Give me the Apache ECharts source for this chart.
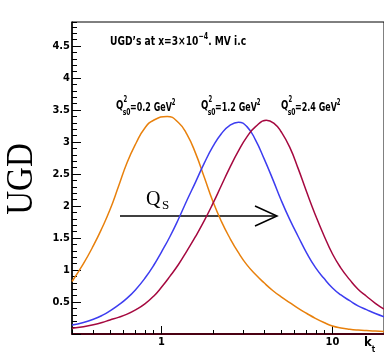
<!DOCTYPE html>
<html>
<head>
<meta charset="utf-8">
<script src="https://cdn.jsdelivr.net/npm/echarts@6/dist/echarts.min.js"></script>
<style>
  html, body { margin: 0; padding: 0; background: #fff; }
  #chart { width: 384px; height: 357px; }
</style>
</head>
<body>
<div id="chart"></div>
<script>
  // kt samples (GeV) and UGD values, one pair of arrays per curve
  const ktQ02 = [0.3, 0.35, 0.4, 0.45, 0.5, 0.56, 0.63, 0.71, 0.8, 0.9, 1.08, 1.26, 1.41, 1.58, 1.78, 2, 2.24, 2.51,
    2.82, 3.16, 3.55, 3.98, 4.47, 5.01, 5.62, 6.31, 7.08, 7.94, 8.91, 10, 11.2, 12.6, 14.1, 15.8, 17.8, 20];
  const ugdQ02 = [0.82, 1.10, 1.38, 1.66, 1.94, 2.30, 2.68, 2.98, 3.22, 3.34, 3.40, 3.30, 3.12, 2.83, 2.45, 2.07, 1.76, 1.50,
    1.27, 1.08, 0.93, 0.80, 0.68, 0.58, 0.49, 0.40, 0.32, 0.245, 0.18, 0.125, 0.095, 0.075, 0.062, 0.053, 0.046, 0.04];

  const ktQ12 = [0.3, 0.35, 0.4, 0.45, 0.5, 0.56, 0.63, 0.71, 0.8, 0.9, 1, 1.12, 1.26, 1.41, 1.58, 1.78, 2, 2.24, 2.51,
    2.82, 3.16, 3.55, 3.98, 4.47, 5.01, 5.62, 6.31, 7.08, 7.94, 8.91, 10, 11.2, 12.6, 14.1, 15.8, 17.8, 20];
  const ugdQ12 = [0.14, 0.18, 0.23, 0.29, 0.36, 0.45, 0.56, 0.70, 0.87, 1.07, 1.28, 1.52, 1.80, 2.09, 2.37, 2.67, 2.93, 3.13, 3.26,
    3.31, 3.24, 3.03, 2.74, 2.42, 2.09, 1.79, 1.52, 1.26, 1.04, 0.87, 0.72, 0.61, 0.52, 0.44, 0.38, 0.32, 0.27];

  const ktQ24 = [0.3, 0.35, 0.4, 0.45, 0.5, 0.56, 0.63, 0.71, 0.8, 0.9, 1, 1.12, 1.26, 1.41, 1.58, 1.78, 2, 2.24, 2.51,
    2.82, 3.16, 3.55, 4.1, 4.6, 5.01, 5.62, 6.31, 7.08, 7.94, 8.91, 10, 11.2, 12.6, 14.1, 15.8, 17.8, 20];
  const ugdQ24 = [0.09, 0.115, 0.145, 0.18, 0.22, 0.26, 0.31, 0.38, 0.47, 0.59, 0.73, 0.90, 1.09, 1.30, 1.52, 1.77, 2.04, 2.32, 2.60,
    2.86, 3.08, 3.24, 3.34, 3.28, 3.16, 2.92, 2.58, 2.21, 1.86, 1.54, 1.25, 1.03, 0.85, 0.70, 0.59, 0.48, 0.39];

  const seriesNames = ['0.2', '1.2', '2.4'];
  const seriesColors = ['#e8800c', '#3d3df0', '#a5083f'];

  const xMajorTicks = [1, 10];
  const xMinorTicks = [0.3, 0.4, 0.5, 0.6, 0.7, 0.8, 0.9, 2, 3, 4, 5, 6, 7, 8, 9, 20];

  const NARROW = "'Liberation Sans Narrow', 'DejaVu Sans Condensed', sans-serif";
  const SERIF = "'Liberation Serif', 'DejaVu Serif', serif";

  const chart = echarts.init(document.getElementById('chart'));

  function qLabel(x, y, value) {
    return {
      type: 'group', x: x, y: y, scaleX: 0.74,
      children: [
        { type: 'text', x: 0, y: -1, style: { text: 'Q', font: 'bold 13px ' + NARROW, fill: '#000', textVerticalAlign: 'top' } },
        { type: 'text', x: 10, y: -4, style: { text: '2', font: 'bold 8px ' + NARROW, fill: '#000', textVerticalAlign: 'top' } },
        { type: 'text', x: 9, y: 8, style: { text: 's0', font: 'bold 9px ' + NARROW, fill: '#000', textVerticalAlign: 'top' } },
        {
          type: 'text', x: 19, y: -1,
          style: {
            text: '{a|=' + value + ' GeV}{s|2}',
            textVerticalAlign: 'top',
            rich: {
              a: { font: 'bold 12px ' + NARROW, fill: '#000', lineHeight: 15, verticalAlign: 'bottom' },
              s: { font: 'bold 8px ' + NARROW, fill: '#000', lineHeight: 8, verticalAlign: 'top' }
            }
          }
        }
      ]
    };
  }

  const curves = [[ktQ02, ugdQ02], [ktQ12, ugdQ12], [ktQ24, ugdQ24]];

  chart.setOption({
    animation: false,
    grid: { left: 72, right: -1, top: 22, bottom: 23, show: true, borderColor: '#000', borderWidth: 1, backgroundColor: 'transparent' },
    xAxis: [
      {
        type: 'log', logBase: 10, min: 0.3, max: 20,
        axisLine: { show: true, lineStyle: { color: '#4a0012', width: 2 } },
        axisTick: { show: true, inside: true, length: 8, customValues: xMajorTicks, lineStyle: { color: '#000' } },
        axisLabel: { customValues: xMajorTicks, color: '#000', fontFamily: NARROW, fontSize: 11, fontWeight: 'bold', margin: 3 },
        splitLine: { show: false },
        minorTick: { show: false }
      },
      {
        type: 'log', logBase: 10, min: 0.3, max: 20, position: 'bottom',
        axisLine: { show: false },
        axisTick: { show: true, inside: true, length: 4, customValues: xMinorTicks, lineStyle: { color: '#000' } },
        axisLabel: { show: false },
        splitLine: { show: false }
      }
    ],
    yAxis: [
      {
        type: 'value', min: 0, max: 4.875, interval: 0.5,
        axisLine: { show: true, lineStyle: { color: '#000', width: 1.5 } },
        axisTick: { show: true, inside: true, length: 9, lineStyle: { color: '#000' } },
        axisLabel: {
          color: '#000', fontFamily: NARROW, fontSize: 11, fontWeight: 'bold', margin: 2,
          showMaxLabel: false,
          formatter: function (v) { return (v === 0 || Math.abs(v * 2 - Math.round(v * 2)) > 1e-6) ? '' : String(v); }
        },
        splitLine: { show: false }
      },
      {
        type: 'value', min: 0, max: 4.875, interval: 0.1, position: 'left',
        axisLine: { show: false },
        axisTick: { show: true, inside: true, length: 5, lineStyle: { color: '#000' } },
        axisLabel: { show: false },
        splitLine: { show: false }
      }
    ],
    series: curves.map(function (c, s) {
      return {
        name: seriesNames[s], type: 'line', xAxisIndex: 0, yAxisIndex: 0,
        smooth: 0.5, symbol: 'none',
        lineStyle: { color: seriesColors[s], width: 1.5 },
        data: c[0].map(function (k, i) { return [k, c[1][i]]; })
      };
    }),
    graphic: [
      {
        type: 'text', x: 110, y: 32, scaleX: 0.78,
        style: {
          text: '{a|UGD\u2019s at x=3\u00d710}{s|\u22124}{a|. MV i.c}',
          textVerticalAlign: 'top',
          rich: {
            a: { font: 'bold 13px ' + NARROW, fill: '#000', lineHeight: 16, verticalAlign: 'bottom' },
            s: { font: 'bold 9px ' + NARROW, fill: '#000', lineHeight: 9, verticalAlign: 'top' }
          }
        }
      },
      qLabel(116, 100, seriesNames[0]),
      qLabel(201, 100, seriesNames[1]),
      qLabel(281, 100, seriesNames[2]),
      { type: 'text', x: 146, y: 190, style: { text: 'Q', font: '20px ' + SERIF, fill: '#000', textVerticalAlign: 'top' } },
      { type: 'text', x: 162, y: 199, style: { text: 'S', font: '13px ' + SERIF, fill: '#000', textVerticalAlign: 'top' } },
      { type: 'line', shape: { x1: 120, y1: 216, x2: 276, y2: 216 }, style: { stroke: '#000', lineWidth: 1.5 } },
      { type: 'polyline', shape: { points: [[255, 206], [277, 216], [255, 226]] }, style: { stroke: '#000', lineWidth: 1.5, fill: null } },
      {
        type: 'text', x: 22, y: 179, rotation: Math.PI / 2, scaleY: 1.12,
        style: { text: 'UGD', font: '33px ' + SERIF, fill: '#000', textAlign: 'center', textVerticalAlign: 'middle' }
      },
      {
        type: 'text', x: 364, y: 336,
        style: {
          text: '{k|k}{t|t}',
          textVerticalAlign: 'top',
          rich: {
            k: { font: 'bold 13px ' + NARROW, fill: '#000', lineHeight: 14, verticalAlign: 'top' },
            t: { font: 'bold 8px ' + NARROW, fill: '#000', lineHeight: 18, verticalAlign: 'bottom' }
          }
        }
      }
    ]
  });
</script>
</body>
</html>
